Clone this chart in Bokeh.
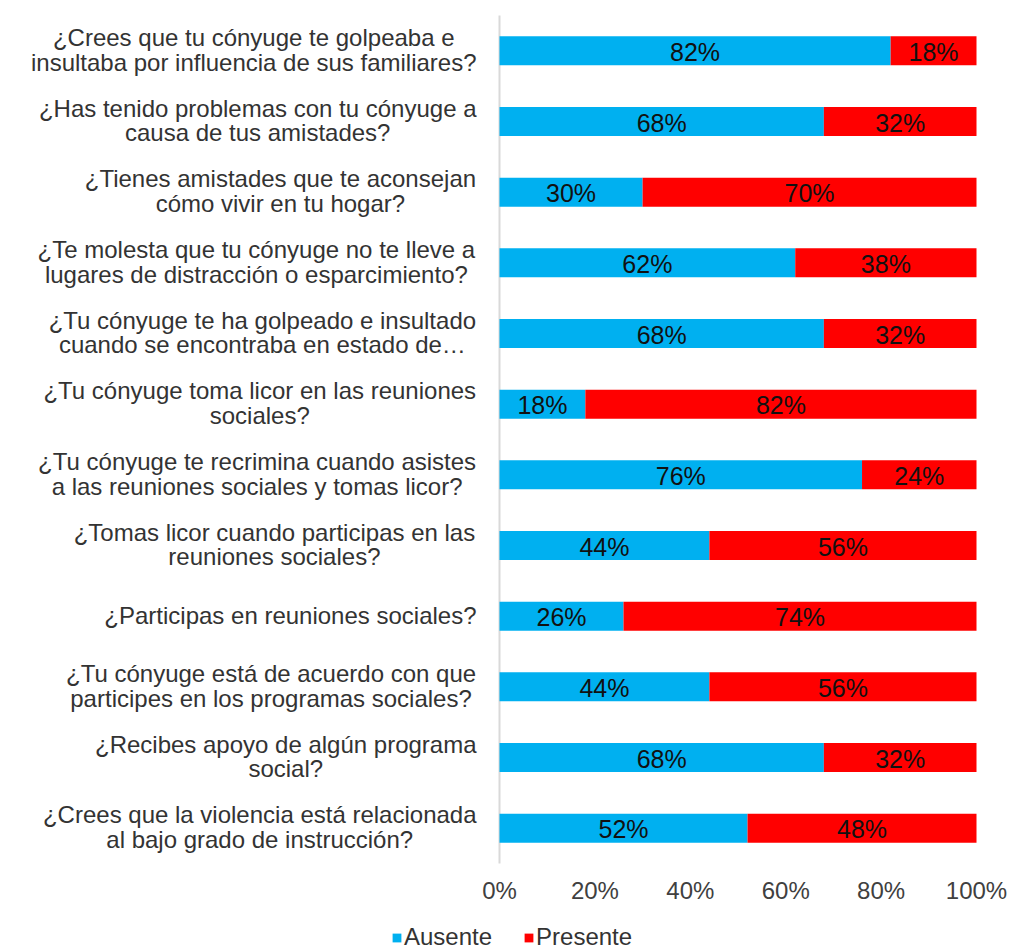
from bokeh.plotting import figure
from bokeh.models import ColumnDataSource, Legend, LegendItem, Range1d
from bokeh.core.properties import value
from bokeh.embed import file_html
from bokeh.resources import INLINE

# ---------------- data ----------------
questions = [
    "¿Crees que tu cónyuge te golpeaba e\ninsultaba por influencia de sus familiares?",
    "¿Has tenido problemas con tu cónyuge a\ncausa de tus amistades?",
    "¿Tienes amistades que te aconsejan\ncómo vivir en tu hogar?",
    "¿Te molesta que tu cónyuge no te lleve a\nlugares de distracción o esparcimiento?",
    "¿Tu cónyuge te ha golpeado e insultado\ncuando se encontraba en estado de…",
    "¿Tu cónyuge toma licor en las reuniones\nsociales?",
    "¿Tu cónyuge te recrimina cuando asistes\na las reuniones sociales y tomas licor?",
    "¿Tomas licor cuando participas en las\nreuniones sociales?",
    "¿Participas en reuniones sociales?",
    "¿Tu cónyuge está de acuerdo con que\nparticipes en los programas sociales?",
    "¿Recibes apoyo de algún programa\nsocial?",
    "¿Crees que la violencia está relacionada\nal bajo grado de instrucción?",
]
ausente = [82, 68, 30, 62, 68, 18, 76, 44, 26, 44, 68, 52]
presente = [18, 32, 70, 38, 32, 82, 24, 56, 74, 56, 32, 48]
series_names = ["Ausente", "Presente"]
x_ticks = [0, 0.2, 0.4, 0.6, 0.8, 1.0]
x_tick_labels = ["0%", "20%", "40%", "60%", "80%", "100%"]

# ---------------- style / layout ----------------
FONT = "Liberation Sans"
BLUE = "#00B0F0"
RED = "#FF0000"
CAT_SIZE = 24
CAT_GAP = 23          # px between label block and the axis line
FIG_W, FIG_H = 1012, 951
AXIS_PX = 499         # screen x of the 0% line inside the figure
BAR_PX = 477          # pixels from 0% to 100%
TOP_PX = 15           # plot area top
PLOT_H = 848          # plot area height
TICK_GAP = 27         # px from plot bottom to tick label centre

# Arial / Liberation Sans advance widths (per 1000 em) to centre label lines
W = {" ": 278, "¿": 611, "?": 556, "…": 1000, "%": 889,
     "a": 556, "b": 556, "c": 500, "d": 556, "e": 556, "f": 278, "g": 556, "h": 556,
     "i": 222, "j": 222, "k": 500, "l": 222, "m": 833, "n": 556, "o": 556, "p": 556,
     "q": 556, "r": 333, "s": 500, "t": 278, "u": 556, "v": 500, "w": 722, "x": 500,
     "y": 500, "z": 500, "á": 556, "é": 556, "í": 278, "ó": 556, "ú": 556, "ñ": 556,
     "C": 722, "H": 722, "T": 611, "P": 667, "R": 722}


def text_width(s, size):
    return sum(W.get(ch, 556) for ch in s) * size / 1000.0


n = len(questions)
row_px = PLOT_H / n
pos = [n - 1 - i for i in range(n)]          # first question on top
a_frac = [v / 100 for v in ausente]
p_frac = [v / 100 for v in presente]
offsets = [-(CAT_GAP + max(text_width(l, CAT_SIZE) for l in q.split("\n")) / 2) for q in questions]

src = ColumnDataSource(dict(
    pos=pos, Ausente=a_frac, Presente=p_frac,
    q=questions, xoff=offsets, zero=[0.0] * n,
    a_mid=[a / 2 for a in a_frac],
    p_mid=[a + p / 2 for a, p in zip(a_frac, p_frac)],
    a_txt=[f"{v}%" for v in ausente],
    p_txt=[f"{v}%" for v in presente],
))

x_start = -AXIS_PX / BAR_PX
x_end = 1 + (FIG_W - AXIS_PX - BAR_PX) / BAR_PX
y_end = (n - 0.5) + TOP_PX / row_px
y_start = -0.5 - (FIG_H - TOP_PX - PLOT_H) / row_px

p = figure(width=FIG_W, height=FIG_H, output_backend="svg", toolbar_location=None,
           x_range=Range1d(x_start, x_end), y_range=Range1d(y_start, y_end),
           min_border=0)
p.outline_line_color = None
p.grid.visible = False
p.axis.visible = False
p.background_fill_color = "white"
p.border_fill_color = "white"

# vertical axis line at 0%, spanning the category band
p.segment(x0=[0], y0=[-0.5], x1=[0], y1=[n - 0.5], line_color="#D9D9D9", line_width=2)

rs = p.hbar_stack(series_names, y="pos", height=0.41, color=[BLUE, RED],
                  line_color=None, source=src)

# bar value labels
for xcol, tcol in (("a_mid", "a_txt"), ("p_mid", "p_txt")):
    p.text(x=xcol, y="pos", text=tcol, source=src, text_align="center",
           text_baseline="middle", text_font=value(FONT), text_font_size="25px",
           text_color="#111111", y_offset=1)

# category labels (centered lines, block right-aligned to the axis)
p.text(x="zero", y="pos", text="q", x_offset="xoff", source=src,
       text_align="center", text_baseline="middle",
       text_font=value(FONT), text_font_size=f"{CAT_SIZE}px",
       text_color="#333333", text_line_height=0.92, y_offset=-1)

# x tick labels
tick_y = -0.5 - TICK_GAP / row_px
p.text(x=x_ticks, y=[tick_y] * len(x_ticks), text=x_tick_labels,
       text_align="center", text_baseline="middle", text_font=value(FONT),
       text_font_size="24px", text_color="#404040")

legend = Legend(items=[LegendItem(label=nm, renderers=[r]) for nm, r in zip(series_names, rs)],
                orientation="horizontal", location=(391, 0),
                label_text_font=FONT, label_text_font_size="24px", label_text_color="#333333",
                glyph_width=11, glyph_height=11, label_standoff=2, spacing=31,
                padding=0, margin=0, border_line_color=None, background_fill_alpha=0)
p.add_layout(legend, "center")

open("out.html", "w").write(file_html(p, INLINE))
